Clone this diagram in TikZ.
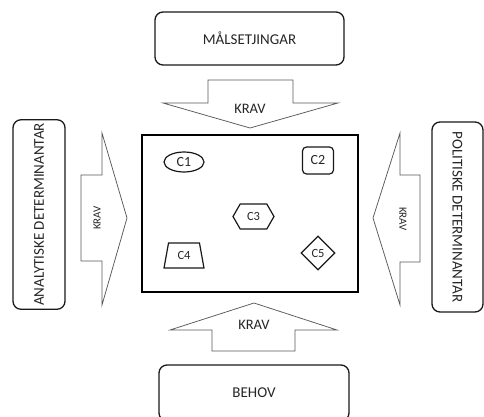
\documentclass[tikz,border=0pt]{standalone}
\usepackage{fontspec}
\setmainfont{Carlito}
\usetikzlibrary{shapes.geometric, shapes.symbols}

\begin{document}
\begin{tikzpicture}[x=1pt, y=-1pt,
  boks/.style={draw=black!90, line width=1.3pt, rounded corners=8pt, text=black!85,
    font=\fontsize{15}{17}\selectfont},
  pil/.style={draw=black!65, line width=0.75pt, fill=white},
  krav/.style={text=black!85, font=\fontsize{14.5}{16}\selectfont},
  kravliten/.style={text=black!85, font=\fontsize{11}{12}\selectfont},
  krit/.style={draw=black!90, line width=1.2pt, text=black!85, inner sep=0pt},
  stor/.style={font=\fontsize{14}{16}\selectfont},
  liten/.style={font=\fontsize{12.5}{14}\selectfont}]

% Fix the page size
\useasboundingbox (0,0) rectangle (484,417);

% Outer boxes
\node[boks, minimum width=189pt, minimum height=53pt] (malset) at (249.5,38.5) {MÅLSETJINGAR};
\node[boks, minimum width=190pt, minimum height=56pt] (behov) at (254,393) {BEHOV};
\node[boks, rotate=90, minimum width=185pt, minimum height=52pt] (analyt) at (39,214.5) {ANALYTISKE DETERMINANTAR};
\node[boks, rotate=-90, minimum width=190pt, minimum height=51pt] (polit) at (457.5,217) {POLITISKE DETERMINANTAR};

% Block arrows
\draw[pil] (208,80) -- (293,80) -- (293,103) -- (338,103) -- (250,128) -- (163,103) -- (208,103) -- cycle;
\draw[pil] (212,351) -- (295,351) -- (295,330) -- (337,330) -- (254,303) -- (170,330) -- (212,330) -- cycle;
\draw[pil] (81,175) -- (102,175) -- (102,133) -- (127,218) -- (102,305) -- (102,261) -- (81,261) -- cycle;
\draw[pil] (420,175) -- (400,175) -- (400,133) -- (373,218) -- (400,305) -- (400,262) -- (420,262) -- cycle;
\node[krav] (kravtopp) at (250,109) {KRAV};
\node[krav] (kravbotn) at (254,325) {KRAV};
\node[kravliten, rotate=90] (kravvenstre) at (97,218) {KRAV};
\node[kravliten, rotate=-90] (kravhogre) at (403,219) {KRAV};

% Main frame
\node[draw=black, line width=1.6pt, minimum width=216pt, minimum height=157pt] (ramme) at (250,213.5) {};

% Criteria
\node[krit, stor, ellipse, minimum width=40pt, minimum height=20pt] (c1) at (184,162) {C1};
\node[krit, stor, rounded corners=4pt, minimum width=31pt, minimum height=27pt] (c2) at (318,160.5) {C2};
\node[krit, liten, signal, signal to=east and west, signal pointer angle=120,
  minimum width=41pt, minimum height=25pt] (c3) at (253.5,216.5) {C3};
\node[krit, liten, trapezium, trapezium stretches=true, trapezium left angle=77,
  trapezium right angle=77, minimum width=40pt, minimum height=25pt] (c4) at (184,255.5) {C4};
\node[krit, liten, diamond, aspect=1, minimum width=34pt, minimum height=34pt] (c5) at (318,253) {C5};

\end{tikzpicture}
\end{document}
